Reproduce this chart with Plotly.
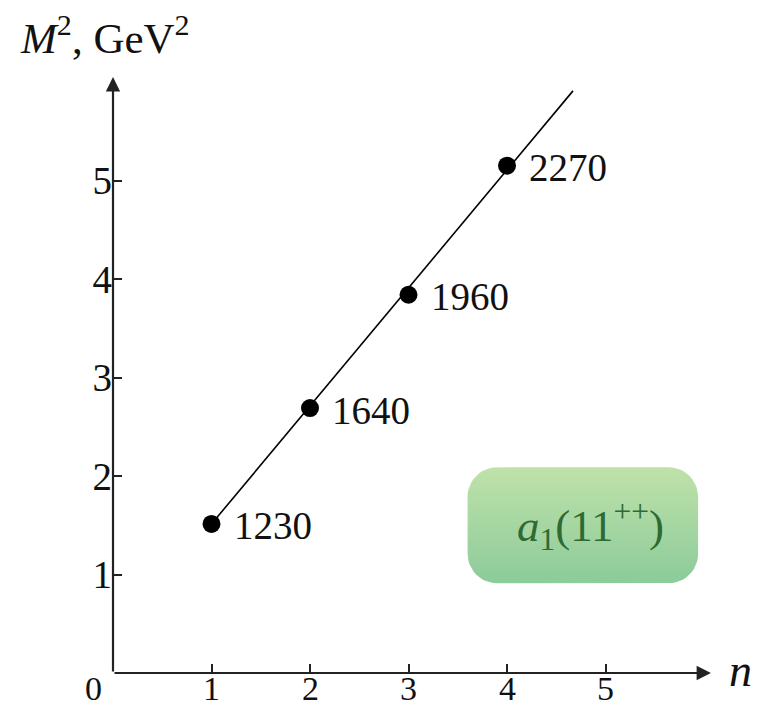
import plotly.graph_objects as go

# Data
n_vals = [1, 2, 3, 4]
m2_vals = [1.513, 2.69, 3.84, 5.15]
mass_labels = ["1230", "1640", "1960", "2270"]
fit_n = [1.0, 4.67]
fit_m2 = [1.513, 5.91]
x_ticks = [1, 2, 3, 4, 5]
x_tick_labels = ["1", "2", "3", "4", "5"]
y_ticks = [1, 2, 3, 4, 5]
box_text = "<i>a</i><sub>1</sub>(11<sup>++</sup>)"

FONT = "Liberation Serif"
FS = 39
W, H = 763, 708
L, R, T, B = 113, 13, 20, 35
PPU_X, PPU_Y = 98.5, 98.5
xr = (W - L - R) / PPU_X
yr = (H - T - B) / PPU_Y

fig = go.Figure()

# Rounded box with gradient (decoration)
def rounded_rect(x0, x1, y0, y1, rx, ry, k=12):
    import math
    xs, ys = [], []
    corners = [(x1 - rx, y1 - ry, 0), (x0 + rx, y1 - ry, 90), (x0 + rx, y0 + ry, 180), (x1 - rx, y0 + ry, 270)]
    for cx, cy, a0 in corners:
        for i in range(k + 1):
            a = math.radians(a0 + 90 * i / k)
            xs.append(cx + rx * math.cos(a))
            ys.append(cy + ry * math.sin(a))
    xs.append(xs[0]); ys.append(ys[0])
    return xs, ys

bx0, bx1, by0, by1 = 3.60, 5.94, 0.91, 2.09
bxs, bys = rounded_rect(bx0, bx1, by0, by1, 0.30, 0.30)
fig.add_trace(go.Scatter(
    x=bxs, y=bys, mode="lines", fill="toself", line=dict(width=0),
    fillgradient=dict(type="vertical", colorscale=[[0, "#8ccb9b"], [1, "#bfe2a9"]], start=by0, stop=by1),
    hoverinfo="skip", showlegend=False))

# Fit line
fig.add_trace(go.Scatter(x=fit_n, y=fit_m2, mode="lines", line=dict(color="black", width=1.6),
                         showlegend=False, hoverinfo="skip"))
# Points
fig.add_trace(go.Scatter(x=n_vals, y=m2_vals, mode="markers", marker=dict(color="black", size=18),
                         showlegend=False))

for xv, yv, t in zip(n_vals, m2_vals, mass_labels):
    fig.add_annotation(x=xv, y=yv, text=t, showarrow=False, xanchor="left", yanchor="middle",
                       xshift=20, yshift=-2, font=dict(family=FONT, size=FS, color="#111"))

fig.add_annotation(x=(bx0 + bx1) / 2 + 0.08, y=(by0 + by1) / 2, text=box_text, showarrow=False,
                   font=dict(family=FONT, size=45, color="#2f6a33"))

# Axis arrows
fig.add_annotation(x=6.07, y=0, ax=0, ay=0, xref="x", yref="y", axref="x", ayref="y",
                   showarrow=True, arrowhead=2, arrowsize=1.3, arrowwidth=2.2, arrowcolor="#222", text="")
fig.add_annotation(x=0, y=6.05, ax=0, ay=0, xref="x", yref="y", axref="x", ayref="y",
                   showarrow=True, arrowhead=2, arrowsize=1.3, arrowwidth=2.2, arrowcolor="#222", text="")

# X tick labels (placed close to the axis like the reference)
for xv, t in zip(x_ticks, x_tick_labels):
    fig.add_annotation(x=xv, y=0, text=t, showarrow=False, xanchor="center", yanchor="middle",
                       yshift=-15, font=dict(family=FONT, size=34, color="#111"))

# Axis labels
fig.add_annotation(x=0, y=0, text="0", showarrow=False, xanchor="center", yanchor="middle",
                   xshift=-20, yshift=-15, font=dict(family=FONT, size=34, color="#111"))
fig.add_annotation(x=6.07, y=0, text="<i>n</i>", showarrow=False, xanchor="left", yanchor="middle",
                   xshift=16, yshift=3, font=dict(family=FONT, size=46, color="#111"))
fig.add_annotation(xref="paper", yref="paper", x=0, y=1, text="<i>M</i><sup>2</sup>, GeV<sup>2</sup>",
                   showarrow=False, xanchor="left", yanchor="middle", xshift=-95, yshift=-15,
                   font=dict(family=FONT, size=43, color="#111"))

fig.update_xaxes(range=[0, xr], tickvals=x_ticks, showticklabels=False, ticks="inside", ticklen=9,
                 tickwidth=2, tickcolor="#222", showline=False, showgrid=False, zeroline=False,
                 automargin=False, fixedrange=True)
fig.update_yaxes(range=[0, yr], tickvals=y_ticks, ticks="inside", ticklen=9, tickwidth=2,
                 tickcolor="#222", showline=False, showgrid=False, zeroline=False, automargin=False,
                 tickfont=dict(family=FONT, size=FS, color="#111"), fixedrange=True)

fig.update_layout(width=W, height=H, margin=dict(l=L, r=R, t=T, b=B, pad=0, autoexpand=False),
                  plot_bgcolor="white", paper_bgcolor="white", showlegend=False)

fig.write_html("out.html", config={"displayModeBar": False})
